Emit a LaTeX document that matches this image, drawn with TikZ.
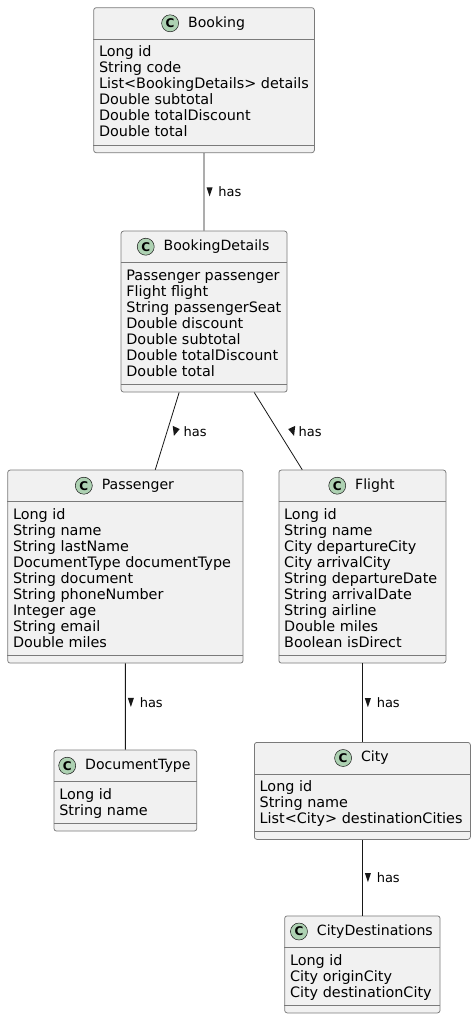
\documentclass[tikz,border=0pt]{standalone}
\usepackage{fontspec}
\setmainfont{DejaVu Sans}
\usetikzlibrary{positioning,calc}
\definecolor{boxfill}{HTML}{F1F1F1}
\definecolor{boxline}{HTML}{181818}
\definecolor{frameline}{HTML}{7A7A7A}
\definecolor{iconfill}{HTML}{ADD1B2}
\newcommand{\attrtop}{\rule{0pt}{11pt}}
\tikzset{
  classbox/.style={draw=frameline, fill=boxfill, line width=0.75pt, rounded corners=2.5pt, anchor=north west, inner sep=0pt},
  classname/.style={inner sep=0pt, font=\fontsize{14.1}{16}\selectfont, text height=10.5pt, text depth=3pt},
  classicon/.style={circle, draw=boxline, fill=iconfill, line width=0.5pt, minimum size=17pt, inner sep=0pt, font=\fontsize{12}{12}\selectfont\bfseries},
  attrs/.style={anchor=north west, align=left, inner sep=0pt, font=\fontsize{14.4}{16}\selectfont},
  sep/.style={draw=frameline, line width=0.75pt},
  haslabel/.style={inner sep=0pt, anchor=west, font=\fontsize{13}{15}\selectfont, text height=10pt, text depth=0pt},
  tridown/.pic={\fill[boxline] (-11.5,-4.5) -- (-5.5,-4.5) -- (-8.5,4.5) -- cycle;},
  triright/.pic={\fill[boxline] (-10.5,-5.2) -- (-3.5,-2) -- (-9.3,4.8) -- cycle;},
  trileft/.pic={\fill[boxline] (-3,-5.2) -- (-10,-2) -- (-4.2,4.8) -- cycle;}
}
\begin{document}
\begin{tikzpicture}[x=1pt, y=-1pt]
\path[fill=white, use as bounding box] (0,0) rectangle (476,1017);

\node (booking) [classbox, minimum width=220.7, minimum height=145] at (93.3,7.3) {};
\node (bookingT) [classname] at ($(booking.north)+(12.5,16)$) {Booking};
\node (bookingC) [classicon, left=9pt of bookingT] {C};
\node (bookingA) [attrs] at ($(booking.north west)+(5.5,38.4)$) {\attrtop Long id\\String code\\List<BookingDetails> details\\Double subtotal\\Double totalDiscount\\Double total};

\node (details) [classbox, minimum width=166, minimum height=161] at (120.7,230.7) {};
\node (detailsT) [classname] at ($(details.north)+(12.5,16)$) {BookingDetails};
\node (detailsC) [classicon, left=9pt of detailsT] {C};
\node (detailsA) [attrs] at ($(details.north west)+(5.5,38.4)$) {\attrtop Passenger passenger\\Flight flight\\String passengerSeat\\Double discount\\Double subtotal\\Double totalDiscount\\Double total};

\node (passenger) [classbox, minimum width=235.4, minimum height=193] at (7.3,469.7) {};
\node (passengerT) [classname] at ($(passenger.north)+(12.5,16)$) {Passenger};
\node (passengerC) [classicon, left=9pt of passengerT] {C};
\node (passengerA) [attrs] at ($(passenger.north west)+(5.5,38.4)$) {\attrtop Long id\\String name\\String lastName\\DocumentType documentType\\String document\\String phoneNumber\\Integer age\\String email\\Double miles};

\node (flight) [classbox, minimum width=167, minimum height=193] at (278.5,469.7) {};
\node (flightT) [classname] at ($(flight.north)+(12.5,16)$) {Flight};
\node (flightC) [classicon, left=9pt of flightT] {C};
\node (flightA) [attrs] at ($(flight.north west)+(5.5,38.4)$) {\attrtop Long id\\String name\\City departureCity\\City arrivalCity\\String departureDate\\String arrivalDate\\String airline\\Double miles\\Boolean isDirect};

\node (doctype) [classbox, minimum width=142.7, minimum height=81] at (53.65,749.7) {};
\node (doctypeT) [classname] at ($(doctype.north)+(12.5,16)$) {DocumentType};
\node (doctypeC) [classicon, left=9pt of doctypeT] {C};
\node (doctypeA) [attrs] at ($(doctype.north west)+(5.5,38.4)$) {\attrtop Long id\\String name};

\node (city) [classbox, minimum width=216, minimum height=97] at (254,742) {};
\node (cityT) [classname] at ($(city.north)+(12.5,16)$) {City};
\node (cityC) [classicon, left=9pt of cityT] {C};
\node (cityA) [attrs] at ($(city.north west)+(5.5,38.4)$) {\attrtop Long id\\String name\\List<City> destinationCities};

\node (citydest) [classbox, minimum width=155.4, minimum height=97] at (284.3,915.5) {};
\node (citydestT) [classname] at ($(citydest.north)+(12.5,16)$) {CityDestinations};
\node (citydestC) [classicon, left=9pt of citydestT] {C};
\node (citydestA) [attrs] at ($(citydest.north west)+(5.5,38.4)$) {\attrtop Long id\\City originCity\\City destinationCity};

\foreach \c in {booking,details,passenger,flight,doctype,city,citydest}{
  \draw[sep] ([yshift=-32pt]\c.north west) -- ([yshift=-32pt]\c.north east);
  \draw[sep] ([yshift=8pt]\c.south west) -- ([yshift=8pt]\c.south east);
}

\path[draw=boxline, line width=0.8pt]
(booking) edge node (has1) [haslabel, xshift=14pt] {has} (details)
(details) edge node (has2) [haslabel, xshift=16pt] {has} (passenger)
(details) edge node (has3) [haslabel, xshift=20pt] {has} (flight)
(passenger) edge node (has4) [haslabel, xshift=14pt, yshift=4.2pt] {has} (doctype)
(flight) edge node (has5) [haslabel, xshift=14pt] {has} (city)
(city) edge node (has6) [haslabel, xshift=14pt] {has} (citydest);

\pic at (has1.west) {tridown};
\pic at (has2.west) {triright};
\pic at (has3.west) {trileft};
\pic at (has4.west) {tridown};
\pic at (has5.west) {tridown};
\pic at (has6.west) {tridown};
\end{tikzpicture}
\end{document}
